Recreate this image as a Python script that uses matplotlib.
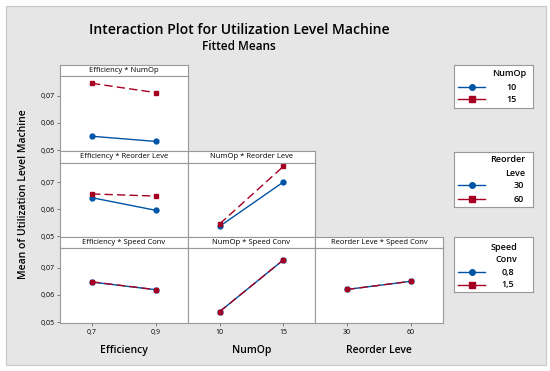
import matplotlib.pyplot as plt
from matplotlib.patches import Rectangle

plt.rcParams['font.family'] = ['Open Sans', 'DejaVu Sans']

# factor levels
efficiency = [0.7, 0.9]
numop = [10, 15]
reorder = [30, 60]
speed_labels = ['0,8', '1,5']

# fitted means
eff_numop = {'10': [0.0551, 0.0532], '15': [0.0745, 0.0711]}
eff_reorder = {'30': [0.0643, 0.0596], '60': [0.0657, 0.0649]}
numop_reorder = {'30': [0.0537, 0.0701], '60': [0.0546, 0.0759]}
eff_speed = {'0,8': [0.0647, 0.0619], '1,5': [0.0648, 0.0619]}
numop_speed = {'0,8': [0.0539, 0.0728], '1,5': [0.0539, 0.0728]}
reorder_speed = {'0,8': [0.0620, 0.0650], '1,5': [0.0620, 0.0650]}

BLUE = '#0054A6'
RED = '#A50021'
W, H = 550, 371

fig = plt.figure(figsize=(5.5, 3.71), dpi=100, facecolor='white')


def px(x0, y0, x1, y1):
    return [x0 / W, 1 - y1 / H, (x1 - x0) / W, (y1 - y0) / H]


def frame(ax):
    ax.set_facecolor('white')
    for s in ax.spines.values():
        s.set_color('#999999')
        s.set_linewidth(0.8)


fig.patches.append(Rectangle((6 / W, 1 - 365 / H), 540 / W, 359 / H,
                             transform=fig.transFigure, facecolor='#E6E6E6',
                             edgecolor='#C8C8C8', lw=0.8, zorder=-10))

fig.text(239 / W, 1 - 30 / H, 'Interaction Plot for Utilization Level Machine',
         ha='center', va='center', fontsize=10.1, fontweight='semibold')
fig.text(239 / W, 1 - 47 / H, 'Fitted Means', ha='center', va='center',
         fontsize=8.5, fontweight='semibold')

cols = [(60, 188), (188, 315), (315, 443)]
rows = [(65, 76, 151), (151, 163, 237), (237, 248, 323)]
xlims = [(0.6, 1.0), (7.5, 17.5), (15, 75)]
xvals = [efficiency, numop, reorder]
xticklabels = [['0,7', '0,9'], ['10', '15'], ['30', '60']]
xnames = ['Efficiency', 'NumOp', 'Reorder Leve']

panels = {
    (0, 0): ('Efficiency * NumOp', eff_numop),
    (1, 0): ('Efficiency * Reorder Leve', eff_reorder),
    (1, 1): ('NumOp * Reorder Leve', numop_reorder),
    (2, 0): ('Efficiency * Speed Conv', eff_speed),
    (2, 1): ('NumOp * Speed Conv', numop_speed),
    (2, 2): ('Reorder Leve * Speed Conv', reorder_speed),
}

for (r, c), (title, data) in panels.items():
    x0, x1 = cols[c]
    st, pt, pb = rows[r]
    sax = fig.add_axes(px(x0, st, x1, pt))
    sax.set_xticks([])
    sax.set_yticks([])
    frame(sax)
    sax.text(0.5, 0.5, title, ha='center', va='center', fontsize=5.5,
             transform=sax.transAxes)

    ax = fig.add_axes(px(x0, pt, x1, pb))
    frame(ax)
    keys = list(data.keys())
    ax.plot(xvals[c], data[keys[0]], color=BLUE, marker='o', ms=3.5, lw=1.0)
    ax.plot(xvals[c], data[keys[1]], color=RED, marker='s', ms=3.5, lw=1.0,
            ls=(0, (6, 3)))
    ax.set_xlim(xlims[c])
    ax.set_ylim(0.0497, 0.0772)
    ax.set_yticks([0.05, 0.06, 0.07])
    ax.tick_params(length=2, width=0.6, color='#666666', labelsize=5, pad=2)
    if c == 0:
        ax.set_yticklabels(['0,05', '0,06', '0,07'])
    else:
        ax.tick_params(left=False, labelleft=False)
    if r == 2:
        ax.set_xticks(xvals[c])
        ax.set_xticklabels(xticklabels[c])
        ax.set_xlabel(xnames[c], fontsize=7.5, fontweight='semibold', labelpad=7)
    else:
        ax.set_xticks([])

fig.text(24 / W, 1 - 194 / H, 'Mean of Utilization Level Machine', rotation=90,
         ha='center', va='center', fontsize=7.5, fontweight='semibold')

# legend boxes: (box top, box bottom), title lines, labels, title rows, label rows, right edges
legends = [
    ((65, 108), ['NumOp'], ['10', '15'], [74], [87, 99], 526, 517),
    ((152, 207), ['Reorder', 'Leve'], ['30', '60'], [160, 173], [185, 199], 525, 524),
    ((237, 292), ['Speed', 'Conv'], speed_labels, [247, 259], [272, 285], 517, 514),
]
for (y0, y1), tlines, labels, trows, lrows, tright, lright in legends:
    lax = fig.add_axes(px(454, y0, 533, y1))
    lax.set_xticks([])
    lax.set_yticks([])
    frame(lax)
    lax.set_xlim(454, 533)
    lax.set_ylim(y1, y0)
    for t, yy in zip(tlines, trows):
        lax.text(tright, yy, t, ha='right', va='center', fontsize=6.5,
                 fontweight='semibold')
    styles = [(BLUE, 'o', '-'), (RED, 's', (0, (6, 3)))]
    for lab, yy, (col, mk, ls) in zip(labels, lrows, styles):
        lax.plot([458, 485], [yy, yy], color=col, lw=1.0, ls='-')
        lax.plot([471.5], [yy], color=col, marker=mk, ms=4)
        lax.text(lright, yy, lab, ha='right', va='center', fontsize=6.5,
                 fontweight='semibold')

fig.savefig('out.png', dpi=100, facecolor='white')
